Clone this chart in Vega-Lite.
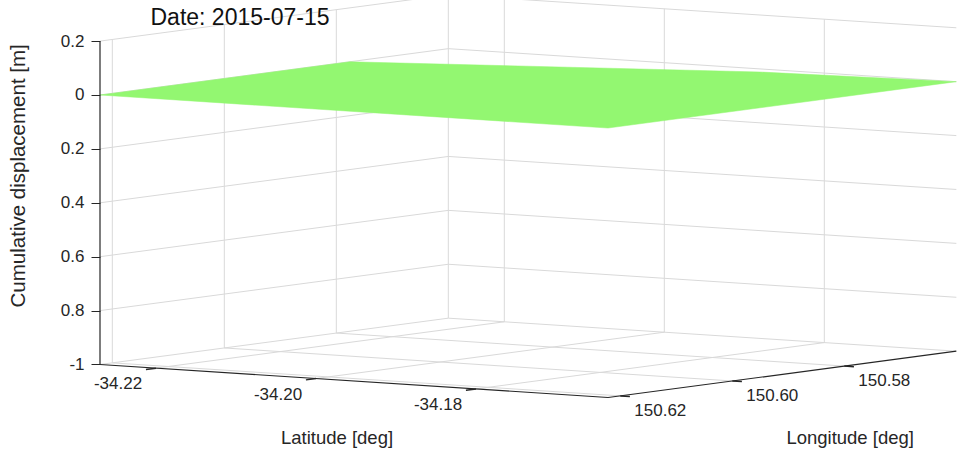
{
  "$schema": "https://vega.github.io/schema/vega-lite/v6.json",
  "width": 857,
  "height": 455,
  "autosize": {"type": "none"},
  "padding": {"left": 100, "top": 0, "right": 0, "bottom": 0},
  "background": "white",
  "config": {"view": {"stroke": null}},
  "data": {"values": [
    {"k": "grid", "lat": -34.227, "lon": 150.6222, "z": 0.2, "lat2": -34.227, "lon2": 150.56, "z2": 0.2},
    {"k": "grid", "lat": -34.227, "lon": 150.6222, "z": 0, "lat2": -34.227, "lon2": 150.56, "z2": 0},
    {"k": "grid", "lat": -34.227, "lon": 150.6222, "z": -0.2, "lat2": -34.227, "lon2": 150.56, "z2": -0.2},
    {"k": "grid", "lat": -34.227, "lon": 150.6222, "z": -0.4, "lat2": -34.227, "lon2": 150.56, "z2": -0.4},
    {"k": "grid", "lat": -34.227, "lon": 150.6222, "z": -0.6, "lat2": -34.227, "lon2": 150.56, "z2": -0.6},
    {"k": "grid", "lat": -34.227, "lon": 150.6222, "z": -0.8, "lat2": -34.227, "lon2": 150.56, "z2": -0.8},
    {"k": "grid", "lat": -34.227, "lon": 150.6222, "z": -1, "lat2": -34.227, "lon2": 150.56, "z2": -1},
    {"k": "grid", "lat": -34.227, "lon": 150.62, "z": -1, "lat2": -34.227, "lon2": 150.62, "z2": 0.2},
    {"k": "grid", "lat": -34.227, "lon": 150.60, "z": -1, "lat2": -34.227, "lon2": 150.60, "z2": 0.2},
    {"k": "grid", "lat": -34.227, "lon": 150.58, "z": -1, "lat2": -34.227, "lon2": 150.58, "z2": 0.2},
    {"k": "grid", "lat": -34.227, "lon": 150.56, "z": -1, "lat2": -34.227, "lon2": 150.56, "z2": 0.2},
    {"k": "grid", "lat": -34.227, "lon": 150.56, "z": 0.2, "lat2": -34.1635, "lon2": 150.56, "z2": 0.2},
    {"k": "grid", "lat": -34.227, "lon": 150.56, "z": 0, "lat2": -34.1635, "lon2": 150.56, "z2": 0},
    {"k": "grid", "lat": -34.227, "lon": 150.56, "z": -0.2, "lat2": -34.1635, "lon2": 150.56, "z2": -0.2},
    {"k": "grid", "lat": -34.227, "lon": 150.56, "z": -0.4, "lat2": -34.1635, "lon2": 150.56, "z2": -0.4},
    {"k": "grid", "lat": -34.227, "lon": 150.56, "z": -0.6, "lat2": -34.1635, "lon2": 150.56, "z2": -0.6},
    {"k": "grid", "lat": -34.227, "lon": 150.56, "z": -0.8, "lat2": -34.1635, "lon2": 150.56, "z2": -0.8},
    {"k": "grid", "lat": -34.227, "lon": 150.56, "z": -1, "lat2": -34.1635, "lon2": 150.56, "z2": -1},
    {"k": "grid", "lat": -34.22, "lon": 150.56, "z": -1, "lat2": -34.22, "lon2": 150.56, "z2": 0.2},
    {"k": "grid", "lat": -34.20, "lon": 150.56, "z": -1, "lat2": -34.20, "lon2": 150.56, "z2": 0.2},
    {"k": "grid", "lat": -34.18, "lon": 150.56, "z": -1, "lat2": -34.18, "lon2": 150.56, "z2": 0.2},
    {"k": "grid", "lat": -34.22, "lon": 150.6222, "z": -1, "lat2": -34.22, "lon2": 150.56, "z2": -1},
    {"k": "grid", "lat": -34.20, "lon": 150.6222, "z": -1, "lat2": -34.20, "lon2": 150.56, "z2": -1},
    {"k": "grid", "lat": -34.18, "lon": 150.6222, "z": -1, "lat2": -34.18, "lon2": 150.56, "z2": -1},
    {"k": "grid", "lat": -34.227, "lon": 150.62, "z": -1, "lat2": -34.1635, "lon2": 150.62, "z2": -1},
    {"k": "grid", "lat": -34.227, "lon": 150.60, "z": -1, "lat2": -34.1635, "lon2": 150.60, "z2": -1},
    {"k": "grid", "lat": -34.227, "lon": 150.58, "z": -1, "lat2": -34.1635, "lon2": 150.58, "z2": -1},
    {"k": "surf", "o": 1, "lat": -34.227, "lon": 150.6222, "z": 0},
    {"k": "surf", "o": 2, "lat": -34.227, "lon": 150.5776, "z": 0},
    {"k": "surf", "o": 3, "lat": -34.1861, "lon": 150.5628, "z": 0},
    {"k": "surf", "o": 4, "lat": -34.1635, "lon": 150.56, "z": 0},
    {"k": "surf", "o": 5, "lat": -34.1635, "lon": 150.6222, "z": 0},
    {"k": "axis", "lat": -34.227, "lon": 150.6222, "z": -1, "lat2": -34.1635, "lon2": 150.6222, "z2": -1},
    {"k": "axis", "lat": -34.1635, "lon": 150.6222, "z": -1, "lat2": -34.1635, "lon2": 150.56, "z2": -1},
    {"k": "axis", "lat": -34.227, "lon": 150.6222, "z": -1, "lat2": -34.227, "lon2": 150.6222, "z2": 0.2},
    {"k": "tick", "lat": -34.22, "lon": 150.6222, "z": -1, "lat2": -34.22, "lon2": 150.624, "z2": -1},
    {"k": "tick", "lat": -34.20, "lon": 150.6222, "z": -1, "lat2": -34.20, "lon2": 150.624, "z2": -1},
    {"k": "tick", "lat": -34.18, "lon": 150.6222, "z": -1, "lat2": -34.18, "lon2": 150.624, "z2": -1},
    {"k": "tick", "lat": -34.1635, "lon": 150.62, "z": -1, "lat2": -34.1623, "lon2": 150.62, "z2": -1},
    {"k": "tick", "lat": -34.1635, "lon": 150.60, "z": -1, "lat2": -34.1623, "lon2": 150.60, "z2": -1},
    {"k": "tick", "lat": -34.1635, "lon": 150.58, "z": -1, "lat2": -34.1623, "lon2": 150.58, "z2": -1},
    {"k": "latlab", "lat": -34.22, "lon": 150.6222, "z": -1, "t": "-34.22"},
    {"k": "latlab", "lat": -34.20, "lon": 150.6222, "z": -1, "t": "-34.20"},
    {"k": "latlab", "lat": -34.18, "lon": 150.6222, "z": -1, "t": "-34.18"},
    {"k": "lonlab", "lat": -34.1635, "lon": 150.62, "z": -1, "t": "150.62"},
    {"k": "lonlab", "lat": -34.1635, "lon": 150.60, "z": -1, "t": "150.60"},
    {"k": "lonlab", "lat": -34.1635, "lon": 150.58, "z": -1, "t": "150.58"},
    {"k": "lattitle", "lat": -34.19525, "lon": 150.6222, "z": -1, "t": "Latitude [deg]"},
    {"k": "lontitle", "lat": -34.1635, "lon": 150.5911, "z": -1, "t": "Longitude [deg]"},
    {"k": "ztitle", "lat": -34.227, "lon": 150.6222, "z": -0.3, "t": "Cumulative displacement [m]"},
    {"k": "title", "lat": -34.227, "lon": 150.6222, "z": 0.2, "t": "Date: 2015-07-15"}
  ]},
  "transform": [
    {"calculate": "(datum.lat + 34.227) + 0.7 * (150.6222 - datum.lon)", "as": "sx1"},
    {"calculate": "datum.z - 1.9295 * (datum.lat + 34.227) + 2.7644 * (150.6222 - datum.lon)", "as": "sy1"},
    {"calculate": "(datum.lat2 + 34.227) + 0.7 * (150.6222 - datum.lon2)", "as": "sx2"},
    {"calculate": "datum.z2 - 1.9295 * (datum.lat2 + 34.227) + 2.7644 * (150.6222 - datum.lon2)", "as": "sy2"}
  ],
  "encoding": {
    "x": {"field": "sx1", "type": "quantitative", "scale": {"domain": [0, 0.107125], "nice": false, "zero": false}, "axis": null},
    "y": {"field": "sy1", "type": "quantitative", "scale": {"domain": [-1.33581, 0.3525], "nice": false, "zero": false},
      "axis": {"values": [0.2, 0, -0.2, -0.4, -0.6, -0.8, -1], "labelExpr": "datum.value == -1 ? '-1' : datum.value == 0 ? '0' : format(abs(datum.value), '.1f')",
        "domain": false, "grid": false, "title": null, "tickSize": 9, "tickColor": "#262626", "tickWidth": 1,
        "labelFont": "Liberation Sans", "labelFontSize": 17, "labelColor": "#262626", "labelPadding": 7}}
  },
  "layer": [
    {"transform": [{"filter": "datum.k == 'grid'"}], "mark": {"type": "rule", "stroke": "#d9d9d9", "strokeWidth": 1},
      "encoding": {"x2": {"field": "sx2"}, "y2": {"field": "sy2"}}},
    {"transform": [{"filter": "datum.k == 'surf'"}], "mark": {"type": "line", "interpolate": "linear-closed", "fill": "#93f771", "stroke": "#93f771", "strokeWidth": 0.5},
      "encoding": {"order": {"field": "o", "type": "quantitative"}}},
    {"transform": [{"filter": "datum.k == 'axis'"}], "mark": {"type": "rule", "stroke": "#262626", "strokeWidth": 1.2},
      "encoding": {"x2": {"field": "sx2"}, "y2": {"field": "sy2"}}},
    {"transform": [{"filter": "datum.k == 'tick'"}], "mark": {"type": "rule", "stroke": "#262626", "strokeWidth": 1.5},
      "encoding": {"x2": {"field": "sx2"}, "y2": {"field": "sy2"}}},
    {"transform": [{"filter": "datum.k == 'latlab'"}], "mark": {"type": "text", "font": "Liberation Sans", "fontSize": 17, "fill": "#262626", "align": "center", "baseline": "middle", "dx": -38, "dy": 16},
      "encoding": {"text": {"field": "t"}}},
    {"transform": [{"filter": "datum.k == 'lonlab'"}], "mark": {"type": "text", "font": "Liberation Sans", "fontSize": 17, "fill": "#262626", "align": "center", "baseline": "middle", "dx": 40, "dy": 15},
      "encoding": {"text": {"field": "t"}}},
    {"transform": [{"filter": "datum.k == 'lattitle'"}], "mark": {"type": "text", "font": "Liberation Sans", "fontSize": 18.5, "fill": "#262626", "align": "center", "baseline": "middle", "dx": -17, "dy": 57},
      "encoding": {"text": {"field": "t"}}},
    {"transform": [{"filter": "datum.k == 'lontitle'"}], "mark": {"type": "text", "font": "Liberation Sans", "fontSize": 18.5, "fill": "#262626", "align": "center", "baseline": "middle", "dx": 68, "dy": 64},
      "encoding": {"text": {"field": "t"}}},
    {"transform": [{"filter": "datum.k == 'ztitle'"}], "mark": {"type": "text", "font": "Liberation Sans", "fontSize": 20.5, "fill": "#262626", "align": "center", "baseline": "middle", "angle": 270, "dx": 0, "dy": -81},
      "encoding": {"text": {"field": "t"}}},
    {"transform": [{"filter": "datum.k == 'title'"}], "mark": {"type": "text", "font": "Liberation Sans", "fontSize": 23, "fill": "#111111", "align": "center", "baseline": "middle", "dx": 140, "dy": -23},
      "encoding": {"text": {"field": "t"}}}
  ]
}
